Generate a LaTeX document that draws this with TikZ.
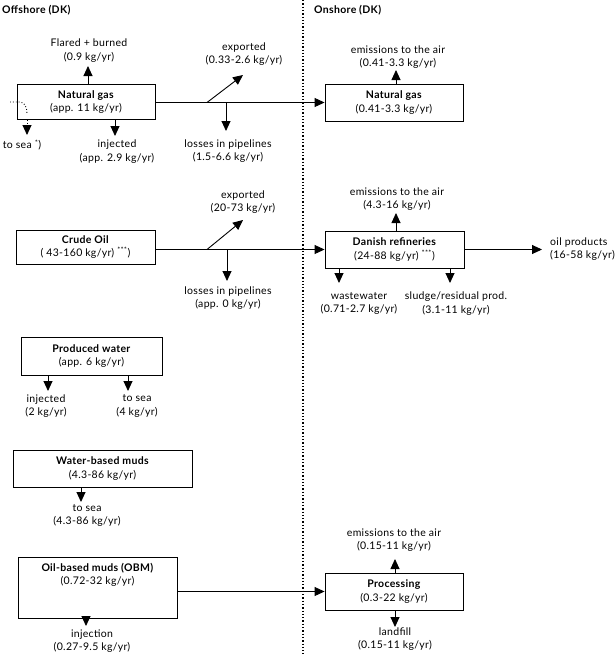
\documentclass[tikz,border=0pt]{standalone}
\usepackage{fontspec}
\setmainfont{Lato}[LetterSpace=3]
\usetikzlibrary{arrows.meta}
\begin{document}
\begin{tikzpicture}[x=1pt,y=-1pt,
  every node/.style={font=\fontsize{10.5}{13.5}\selectfont},
  box/.style={draw,line width=0.9pt,inner sep=0pt,align=center},
  lbl/.style={align=center,inner sep=0pt},
  line/.style={line width=0.9pt},
  flow/.style={line width=0.9pt,-{Triangle[width=9pt,length=10pt]}},
  divider/.style={dotted,line width=1.3pt},
  head/.style={inner sep=0pt,anchor=west,font=\fontsize{10.5}{12}\selectfont\bfseries}]
\useasboundingbox (0,0) rectangle (616,654);

% headings and divider
\node[head] (offh) at (2,10) {Offshore (DK)};
\node[head] (onh) at (314,10) {Onshore (DK)};
\coordinate (divT) at (303,0);
\coordinate (divB) at (303,654);
\draw[divider] (divT) -- (divB);

% boxes
\node[box,minimum width=138pt,minimum height=35pt] (ngoff) at (86,102) {\textbf{Natural gas}\\(app. 11 kg/yr)};
\node[box,minimum width=138pt,minimum height=37pt] (ngon) at (394,102.5) {\textbf{Natural gas}\\(0.41-3.3 kg/yr)};
\node[box,minimum width=139pt,minimum height=34pt] (crude) at (85.5,247) {\textbf{Crude Oil}\\( 43-160 kg/yr) \textsuperscript{***})};
\node[box,minimum width=139pt,minimum height=37pt] (refin) at (394.5,249.5) {\textbf{Danish refineries}\\(24-88 kg/yr) \textsuperscript{***})};
\node[box,minimum width=141pt,minimum height=38pt] (pw) at (91.5,356) {\textbf{Produced water}\\(app. 6 kg/yr)};
\node[box,minimum width=179pt,minimum height=37pt] (wbm) at (102.5,468.5) {\textbf{Water-based muds}\\(4.3-86 kg/yr)};
\node[box,minimum width=159pt,minimum height=61pt] (obm) at (97.5,587.5) {};
\node[lbl] (obmt) at (97.5,575) {\textbf{Oil-based muds (OBM)}\\(0.72-32 kg/yr)};
\node[box,minimum width=138pt,minimum height=37pt] (proc) at (394,591.5) {\textbf{Processing}\\(0.3-22 kg/yr)};

% labels
\node[lbl] (flL) at (89,50.5) {Flared + burned\\(0.9 kg/yr)};
\node[lbl] (ngExpL) at (244,54) {exported\\(0.33-2.6 kg/yr)};
\node[lbl] (ngLossL) at (228,151) {losses in pipelines\\(1.5-6.6 kg/yr)};
\node[lbl] (ngInjL) at (117,151.5) {injected\\(app. 2.9 kg/yr)};
\node[lbl] (seaL) at (22,145) {to sea \textsuperscript{*})};
\node[lbl] (ngEmL) at (398,57) {emissions to the air\\(0.41-3.3 kg/yr)};
\node[lbl] (crExpL) at (243,202) {exported\\(20-73 kg/yr)};
\node[lbl] (crLossL) at (228,298) {losses in pipelines\\(app. 0 kg/yr)};
\node[lbl] (refEmL) at (397,199) {emissions to the air\\(4.3-16 kg/yr)};
\node[lbl,align=left,anchor=east] (oilL) at (615,249) {oil products\\(16-58 kg/yr)};
\node[lbl] (wwL) at (359,303.5) {wastewater\\(0.71-2.7 kg/yr)};
\node[lbl] (slL) at (456,303.5) {sludge/residual prod.\\(3.1-11 kg/yr)};
\node[lbl] (pwInjL) at (46,406) {injected\\(2 kg/yr)};
\node[lbl] (pwSeaL) at (137,406) {to sea\\(4 kg/yr)};
\node[lbl] (wbmSeaL) at (87,515.5) {to sea\\(4.3-86 kg/yr)};
\node[lbl] (obmInjL) at (92,641) {injection\\(0.27-9.5 kg/yr)};
\node[lbl] (procEmL) at (394,540) {emissions to the air\\(0.15-11 kg/yr)};
\node[lbl] (procLfL) at (395,639) {landfill\\(0.15-11 kg/yr)};

% arrow end points
\coordinate (flT) at (88,66);
\coordinate (ngInjT) at (115,136);
\coordinate (seaT) at (27,135);
\coordinate (seaH) at (27,126);
\coordinate (ngB1) at (207,102.5);
\coordinate (ngExpT) at (243,75);
\coordinate (ngLossT) at (226,131);
\coordinate (ngEmT) at (396,70);
\coordinate (crB1) at (207,249.5);
\coordinate (crExpT) at (243,220);
\coordinate (crLossT) at (227,281);
\coordinate (refEmT) at (396,213);
\coordinate (refWwT) at (339,283);
\coordinate (refSlT) at (450,283);
\coordinate (refOilT) at (542,249.5);
\coordinate (pwInjT) at (48,391);
\coordinate (pwSeaT) at (128,391);
\coordinate (wbmSeaT) at (81,502);
\coordinate (obmInjT) at (86,626);
\coordinate (procEmT) at (395,559);
\coordinate (procLfT) at (395,627);
\coordinate (dotA) at (10,102);
\coordinate (dotB) at (20,102);
\coordinate (dotC) at (27,114);

% natural gas flows
\draw[flow] (ngoff.north -| flT) -- (flT);
\draw[flow] (ngoff.south -| ngInjT) -- (ngInjT);
\draw[dotted,line width=0.9pt] (ngoff.south -| seaT) -- (seaH);
\draw[flow] (seaH) -- (seaT);
\draw[dotted,line width=0.9pt] (dotA) -- (dotB) .. controls (25,102) and (27,108) .. (dotC);
\draw[flow] (ngoff.east |- ngon.west) -- (ngon.west);
\draw[flow] (ngB1) -- (ngExpT);
\draw[flow] (ngLossT |- ngon.west) -- (ngLossT);
\draw[flow] (ngon.north -| ngEmT) -- (ngEmT);

% crude oil flows
\draw[flow] (crude.east |- refin.west) -- (refin.west);
\draw[flow] (crB1) -- (crExpT);
\draw[flow] (crLossT |- refin.west) -- (crLossT);
\draw[flow] (refin.north -| refEmT) -- (refEmT);
\draw[flow] (refin.south -| refWwT) -- (refWwT);
\draw[flow] (refin.south -| refSlT) -- (refSlT);
\draw[flow] (refin.east |- refOilT) -- (refOilT);

% produced water, muds
\draw[flow] (pw.south -| pwInjT) -- (pwInjT);
\draw[flow] (pw.south -| pwSeaT) -- (pwSeaT);
\draw[flow] (wbm.south -| wbmSeaT) -- (wbmSeaT);
\draw[flow] (obm.south -| obmInjT) -- (obmInjT);
\draw[flow] (obm.east |- proc.west) -- (proc.west);
\draw[flow] (proc.north -| procEmT) -- (procEmT);
\draw[flow] (proc.south -| procLfT) -- (procLfT);
\end{tikzpicture}
\end{document}
